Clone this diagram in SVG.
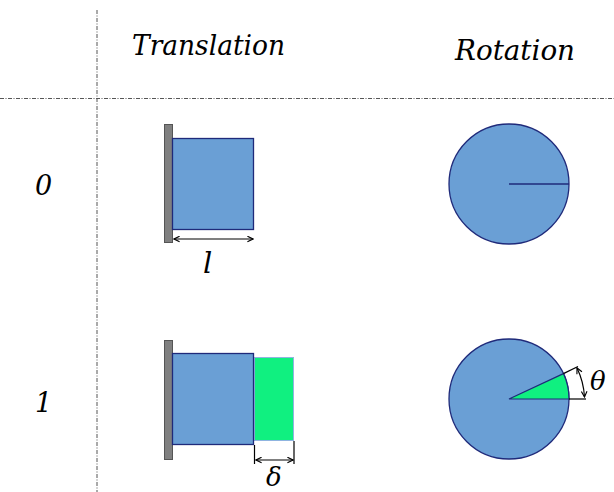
<svg xmlns="http://www.w3.org/2000/svg" width="614" height="492" viewBox="0 0 614 492">
<style>
.lbl{font-family:"DejaVu Serif","Liberation Serif",serif;font-style:italic;fill:#000}
.blue{fill:#6a9fd5;stroke:#1f2a7a;stroke-width:1.3}
.green{fill:#10f080;stroke:#8fb4e0;stroke-width:1}
.wall{fill:#808080;stroke:#555;stroke-width:1}
.grid{stroke:#555;stroke-width:1;stroke-dasharray:4 1.5 1 1.5;fill:none}
.dim{stroke:#000;stroke-width:1.2;fill:none}
</style>
<defs>
<marker id="ah" viewBox="0 0 10 10" refX="9" refY="5" markerWidth="7" markerHeight="7" orient="auto-start-reverse" markerUnits="userSpaceOnUse">
<path d="M1,1 L9,5 L1,9" fill="none" stroke="#000" stroke-width="1.6"/>
</marker>
</defs>
<g id="grid">
<line class="grid" x1="97" y1="10" x2="97" y2="492"/>
<line class="grid" x1="0" y1="98.5" x2="614" y2="98.5"/>
</g>
<g id="headers">
<text class="lbl" x="132" y="55" font-size="28" textLength="153" lengthAdjust="spacingAndGlyphs">Translation</text>
<text class="lbl" x="455" y="60" font-size="28" textLength="120" lengthAdjust="spacingAndGlyphs">Rotation</text>
<text class="lbl" x="35" y="195" font-size="27">0</text>
<text class="lbl" x="35" y="412" font-size="27">1</text>
</g>
<g id="trans0">
<rect class="wall" x="164.5" y="124.5" width="8" height="118"/>
<rect class="blue" x="172.5" y="138.5" width="81" height="91"/>
</g>
<g id="trans1">
<rect class="wall" x="164.5" y="340.5" width="8" height="119"/>
<rect class="green" x="254.5" y="357.5" width="39" height="83"/>
<rect class="blue" x="172.5" y="353.5" width="81" height="91"/>
</g>
<g id="rot0">
<circle class="blue" cx="509" cy="184" r="60"/>
<line x1="509" y1="184" x2="569" y2="184" stroke="#1f2a7a" stroke-width="1.6"/>
</g>
<g id="rot1">
<circle class="blue" cx="509" cy="399" r="60"/>
<path d="M509,399 L569,399 A60,60 0 0 0 563.4,373.6 Z" fill="#10f080" stroke="#1f2a7a" stroke-width="1.2"/>
</g>
<g id="connectors">
<line class="dim" x1="174" y1="239" x2="253" y2="239" marker-start="url(#ah)" marker-end="url(#ah)"/>
<line class="dim" x1="254.5" y1="445" x2="254.5" y2="464"/>
<line class="dim" x1="294" y1="441" x2="294" y2="464"/>
<line class="dim" x1="256" y1="460" x2="293" y2="460" marker-start="url(#ah)" marker-end="url(#ah)"/>
<line class="dim" x1="569" y1="399" x2="586" y2="399"/>
<line class="dim" x1="563.4" y1="373.6" x2="578" y2="366.5"/>
<path class="dim" d="M584.5,397 A76,76 0 0 0 577,368" marker-start="url(#ah)" marker-end="url(#ah)"/>
</g>
<g id="dimlabels">
<text class="lbl" x="203" y="273" font-size="29">l</text>
<text class="lbl" x="266" y="486" font-size="26">δ</text>
<text class="lbl" x="590" y="390" font-size="26">θ</text>
</g>
</svg>
